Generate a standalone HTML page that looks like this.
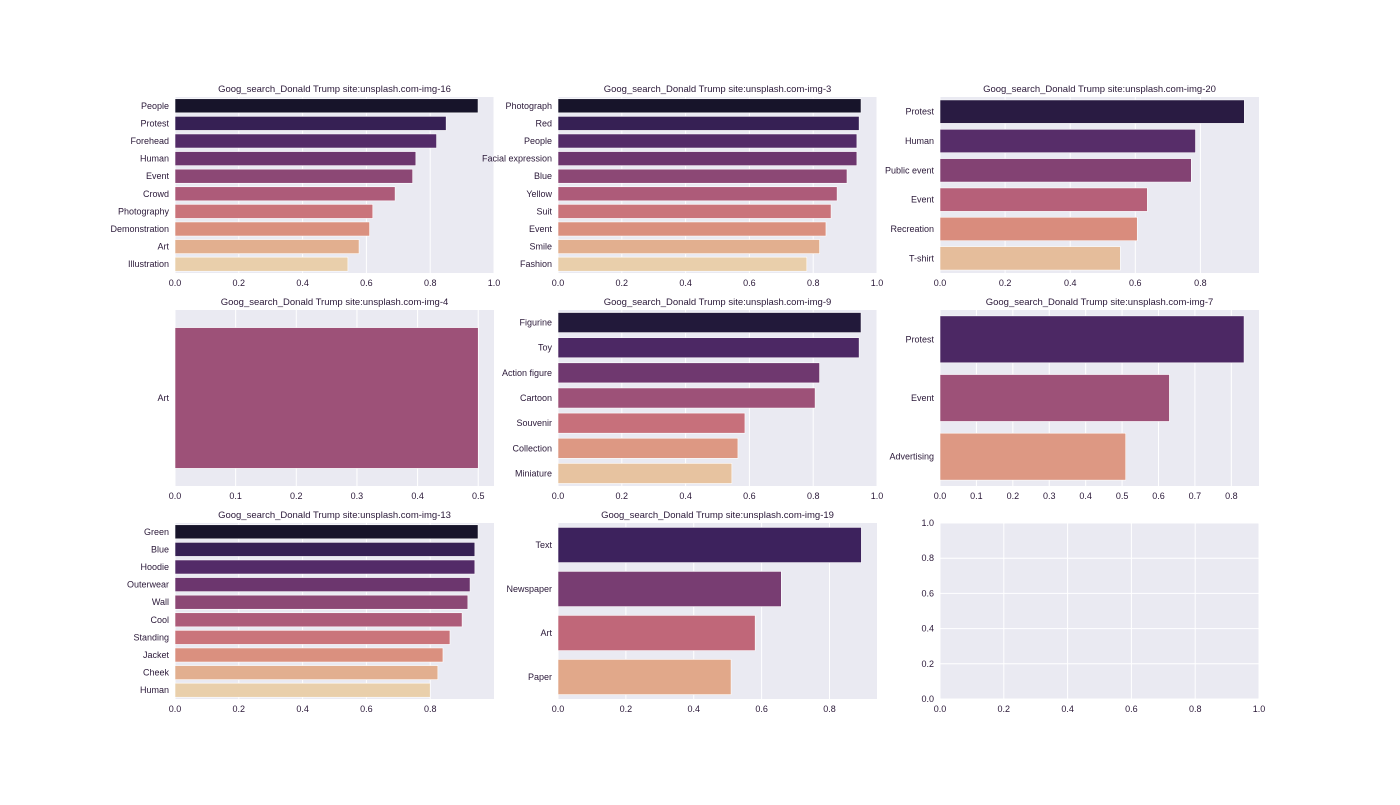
<!DOCTYPE html>
<html><head><meta charset="utf-8"><style>
body{margin:0;background:#fff;}
svg text{font-family:"Liberation Sans",sans-serif;fill:#2a1838;}
</style></head><body>
<svg id="fig" width="1400" height="800" viewBox="0 0 1400 800" xmlns="http://www.w3.org/2000/svg"></svg>
<script>
const titles=["Goog_search_Donald Trump site:unsplash.com-img-16","Goog_search_Donald Trump site:unsplash.com-img-3","Goog_search_Donald Trump site:unsplash.com-img-20","Goog_search_Donald Trump site:unsplash.com-img-4","Goog_search_Donald Trump site:unsplash.com-img-9","Goog_search_Donald Trump site:unsplash.com-img-7","Goog_search_Donald Trump site:unsplash.com-img-13","Goog_search_Donald Trump site:unsplash.com-img-19"];
const labels1=["People","Protest","Forehead","Human","Event","Crowd","Photography","Demonstration","Art","Illustration"];
const values1=[0.95,0.85,0.82,0.755,0.745,0.69,0.62,0.61,0.577,0.542];
const labels2=["Photograph","Red","People","Facial expression","Blue","Yellow","Suit","Event","Smile","Fashion"];
const values2=[0.95,0.944,0.937,0.937,0.906,0.875,0.856,0.84,0.82,0.78];
const labels3=["Protest","Human","Public event","Event","Recreation","T-shirt"];
const values3=[0.935,0.785,0.772,0.637,0.606,0.554];
const labels4=["Art"];
const values4=[0.5];
const labels5=["Figurine","Toy","Action figure","Cartoon","Souvenir","Collection","Miniature"];
const values5=[0.95,0.944,0.82,0.806,0.586,0.564,0.545];
const labels6=["Protest","Event","Advertising"];
const values6=[0.835,0.63,0.51];
const labels7=["Green","Blue","Hoodie","Outerwear","Wall","Cool","Standing","Jacket","Cheek","Human"];
const values7=[0.95,0.94,0.94,0.925,0.918,0.9,0.862,0.84,0.824,0.8];
const labels8=["Text","Newspaper","Art","Paper"];
const values8=[0.894,0.658,0.581,0.51];
const xmaxs=[1.0,1.0,0.98,0.526,1.0,0.876,1.0,0.94];
const xticks=[[0,0.2,0.4,0.6,0.8,1.0],[0,0.2,0.4,0.6,0.8,1.0],[0,0.2,0.4,0.6,0.8],[0,0.1,0.2,0.3,0.4,0.5],[0,0.2,0.4,0.6,0.8,1.0],[0,0.1,0.2,0.3,0.4,0.5,0.6,0.7,0.8],[0,0.2,0.4,0.6,0.8],[0,0.2,0.4,0.6,0.8]];
const allLabels=[labels1,labels2,labels3,labels4,labels5,labels6,labels7,labels8];
const allValues=[values1,values2,values3,values4,values5,values6,values7,values8];
const emptyTicks=[0,0.2,0.4,0.6,0.8,1.0];

const NS="http://www.w3.org/2000/svg";
const svg=document.getElementById('fig');
function mk(tag,attrs,parent){const e=document.createElementNS(NS,tag);for(const k in attrs)e.setAttribute(k,attrs[k]);(parent||svg).appendChild(e);return e;}
const magma=[[0,0,0,4],[0.1,20,14,54],[0.2,59,15,112],[0.3,100,26,128],[0.4,140,41,129],[0.5,183,55,121],[0.6,222,73,104],[0.7,247,112,92],[0.8,254,159,109],[0.9,254,207,146],[1,252,253,191]];
function magmaAt(t){for(let i=1;i<magma.length;i++){if(t<=magma[i][0]){const a=magma[i-1],b=magma[i],f=(t-a[0])/(b[0]-a[0]);return [1,2,3].map(j=>a[j]+(b[j]-a[j])*f);}}return magma[magma.length-1].slice(1);}
function desat(rgb,s){let [r,g,b]=rgb.map(v=>v/255);const mx=Math.max(r,g,b),mn=Math.min(r,g,b);let l=(mx+mn)/2,h=0,sa=0;const d=mx-mn;
if(d>0){sa=l>0.5?d/(2-mx-mn):d/(mx+mn);if(mx===r)h=((g-b)/d+(g<b?6:0));else if(mx===g)h=(b-r)/d+2;else h=(r-g)/d+4;h/=6;}
sa*=s;const q=l<0.5?l*(1+sa):l+sa-l*sa,p=2*l-q;function hue(t){if(t<0)t+=1;if(t>1)t-=1;if(t<1/6)return p+(q-p)*6*t;if(t<1/2)return q;if(t<2/3)return p+(q-p)*(2/3-t)*6;return p;}
const out=sa===0?[l,l,l]:[hue(h+1/3),hue(h),hue(h-1/3)];return 'rgb('+out.map(v=>Math.round(v*255)).join(',')+')';}
function palette(n){const c=[];for(let i=1;i<=n;i++)c.push(desat(magmaAt(i/(n+1)),0.6));return c;}

const colsX=[175,558,940],rowsY=[97,310,523],W=319,H=176;
function fmt(v){return v.toFixed(1);}
for(let p=0;p<9;p++){
  const x0=colsX[p%3],y0=rowsY[Math.floor(p/3)];
  const g=mk('g',{});
  
  
  const bg=mk('rect',{x:x0,y:y0,width:W,height:H,fill:'#eaeaf2'},g);
  
  
  if(p===8){
    const xs=v=>x0+v*W, ys=v=>y0+H-v*H;
    emptyTicks.forEach(t=>{
      mk('line',{x1:xs(t),x2:xs(t),y1:y0,y2:y0+H,stroke:'#fff','stroke-width':1},g);
      mk('line',{x1:x0,x2:x0+W,y1:ys(t),y2:ys(t),stroke:'#fff','stroke-width':1},g);
      const tx=mk('text',{x:xs(t),y:y0+H+13,'font-size':9,'text-anchor':'middle'},g);tx.textContent=fmt(t);
      
      
      const ty=mk('text',{x:x0-6,y:ys(t)+3,'font-size':9,'text-anchor':'end'},g);ty.textContent=fmt(t);
      
      
    });
    continue;
  }
  const labs=allLabels[p],vals=allValues[p],xmax=xmaxs[p],n=labs.length;
  const xs=v=>x0+v/xmax*W;
  const band=H/n;
  xticks[p].forEach(t=>{
    mk('line',{x1:xs(t),x2:xs(t),y1:y0,y2:y0+H,stroke:'#fff','stroke-width':1},g);
    const tx=mk('text',{x:xs(t),y:y0+H+13,'font-size':9,'text-anchor':'middle'},g);tx.textContent=fmt(t);
    
    
  });
  const cols=palette(n);
  labs.forEach((l,i)=>{
    const cy=y0+band*(i+0.5);
    const r=mk('rect',{x:x0,y:cy-band*0.4,width:xs(vals[i])-x0,height:band*0.8,fill:cols[i],stroke:'#fff','stroke-width':0.6},g);
    
    
    const t=mk('text',{x:x0-6,y:cy+3,'font-size':9,'text-anchor':'end'},g);t.textContent=l;
    
    
  });
  const tt=mk('text',{x:x0+W/2,y:y0-5,'font-size':9.5,'text-anchor':'middle'},g);tt.textContent=titles[p];
  
  
}
</script>
</body></html>
